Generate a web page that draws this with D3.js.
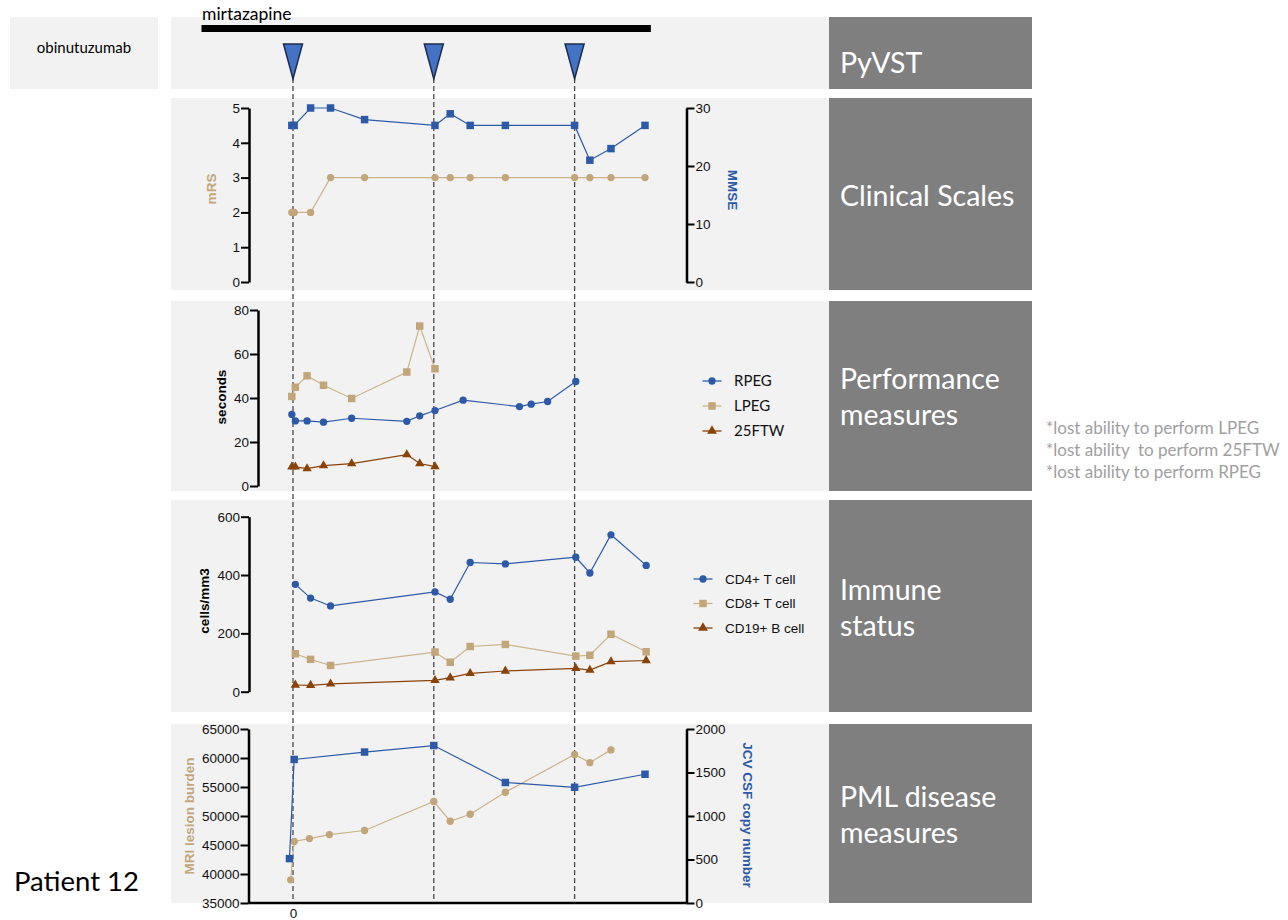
<!DOCTYPE html>
<html>
<head>
<meta charset="utf-8">
<script src="https://cdn.jsdelivr.net/npm/d3@7"></script>
<style>
	body { margin: 0; background: #fff; }
</style>
</head>
<body>
<div id="chart"></div>
<script>
// weeks are counted from the first infusion
const infusionWeeks = [0, 12, 24];
const mirtazapineSpan = [-7.8, 30.5];

// clinical scales
const clinicalWeeks = [-0.1, 0.1, 1.5, 3.2, 6.1, 12.1, 13.4, 15.1, 18.1, 24, 25.3, 27.1, 30];
const mrs = [2, 2, 2, 3, 3, 3, 3, 3, 3, 3, 3, 3, 3];
const mmse = [27, 27, 30, 30, 28, 27, 29, 27, 27, 27, 21, 23, 27];

// performance measures (seconds)
const perfWeeks = [-0.1, 0.2, 1.2, 2.6, 5.0, 9.7, 10.8, 12.1, 14.5, 19.3, 20.3, 21.7, 24.1];
const rpeg = [32.5, 29.6, 29.6, 29.0, 30.8, 29.4, 31.9, 34.3, 39.0, 36.1, 37.2, 38.4, 47.5];
const lpeg = [40.7, 44.9, 50.1, 45.8, 39.8, 51.8, 72.7, 53.3];
const ftw25 = [8.7, 8.7, 7.9, 9.3, 10.2, 14.3, 10.2, 8.8];

// immune status (cells/mm3)
const immuneWeeks = [0.2, 1.5, 3.2, 12.1, 13.4, 15.1, 18.1, 24.1, 25.3, 27.1, 30.1];
const cd4 = [368, 321, 294, 342, 317, 443, 438, 461, 407, 538, 433];
const cd8 = [130, 111, 90, 136, 101, 155, 162, 122, 125, 197, 137];
const cd19 = [23, 22, 27, 39, 48, 63, 71, 80, 74, 103, 107];

// PML disease measures
const mriWeeks = [-0.2, 0.1, 1.4, 3.1, 6.1, 12, 13.4, 15.1, 18.1, 24, 25.3, 27.1];
const mriBurden = [39000, 45600, 46100, 46800, 47500, 52500, 49100, 50300, 54100, 60600, 59200, 61400];
const jcvWeeks = [-0.3, 0.1, 6.1, 12, 18.1, 24, 30];
const jcvCopies = [510, 1650, 1735, 1810, 1385, 1330, 1480];

const notes = ['*lost ability to perform LPEG', '*lost ability  to perform 25FTW', '*lost ability to perform RPEG'];

const BLUE = '#2c5aa8', TAN = '#c2a679', TAN_LINE = '#cbb38c', BROWN = '#8a4306';
const sans = 'Lato, "Open Sans", sans-serif';
const arial = '"Liberation Sans", Arial, sans-serif';

let svg = d3.select('#chart').append('svg')
	.attr('width', 1288)
	.attr('height', 920);

let x = d3.scaleLinear().domain([0, 24]).range([293, 574.6]);

//panel backgrounds + dark title boxes
let rows = [
	{top: 17, bottom: 89, lines: ['PyVST'], base: 73},
	{top: 98, bottom: 290, lines: ['Clinical Scales'], base: 206},
	{top: 301, bottom: 491, lines: ['Performance', 'measures'], base: 389},
	{top: 500, bottom: 712, lines: ['Immune', 'status'], base: 600},
	{top: 724, bottom: 903, lines: ['PML disease', 'measures'], base: 807}
];
rows.forEach(r => {
	svg.append('rect').attr('x', 171).attr('y', r.top).attr('width', 658).attr('height', r.bottom - r.top).attr('fill', '#f2f2f2');
	svg.append('rect').attr('x', 829).attr('y', r.top).attr('width', 203).attr('height', r.bottom - r.top).attr('fill', '#7f7f7f');
	r.lines.forEach((l, i) => {
		svg.append('text').attr('x', 840).attr('y', r.base + i * 36)
			.text(l).style('font-family', sans).style('font-size', '28.5px').style('fill', '#fff');
	});
});

svg.append('rect').attr('x', 10).attr('y', 17).attr('width', 148).attr('height', 72).attr('fill', '#f2f2f2');
svg.append('text').attr('x', 84).attr('y', 53).attr('text-anchor', 'middle')
	.text('obinutuzumab').style('font-family', sans).style('font-size', '15px');

//mirtazapine bar
svg.append('text').attr('x', 202).attr('y', 20).text('mirtazapine')
	.style('font-family', sans).style('font-size', '17.5px');
svg.append('rect').attr('x', x(mirtazapineSpan[0])).attr('y', 25)
	.attr('width', x(mirtazapineSpan[1]) - x(mirtazapineSpan[0])).attr('height', 7).attr('fill', '#000');

//infusion dashed lines + triangles
svg.selectAll('line.infusion')
	.data(infusionWeeks)
	.join('line')
	.classed('infusion', true)
	.attr('x1', d => x(d)).attr('x2', d => x(d))
	.attr('y1', 78).attr('y2', 903)
	.style('stroke', '#4a4a4a').style('stroke-width', 1.3).style('stroke-dasharray', '5,3');
svg.selectAll('path.infusion')
	.data(infusionWeeks)
	.join('path')
	.classed('infusion', true)
	.attr('transform', d => 'translate(' + x(d) + ',44)')
	.attr('d', 'M-9.5,0L9.5,0L0,35Z')
	.style('fill', '#4472c4').style('stroke', '#1c2c4c').style('stroke-width', 1.5);

function styleAxis(g) {
	g.select('.domain').style('stroke-width', 2.5);
	g.selectAll('.tick line').style('stroke-width', 2);
	g.selectAll('.tick text').style('font-family', arial).style('font-size', '13.5px').style('fill', '#111');
}

function yLabel(tx, ty, rot, txt, color) {
	svg.append('text')
		.attr('transform', 'translate(' + tx + ',' + ty + ') rotate(' + rot + ')')
		.attr('text-anchor', 'middle').attr('dy', '0.35em')
		.text(txt)
		.style('font-family', arial).style('font-weight', 'bold').style('font-size', '13.5px').style('fill', color);
}

function series(weeks, values, y, shape, color, lineColor) {
	let pts = values.map((v, i) => [x(weeks[i]), y(v)]);
	svg.append('path').attr('d', d3.line()(pts))
		.style('fill', 'none').style('stroke', lineColor).style('stroke-width', 1.2);
	let size = shape === d3.symbolSquare ? 56 : shape === d3.symbolCircle ? 42 : 38;
	svg.selectAll(null)
		.data(pts)
		.join('path')
		.attr('transform', d => 'translate(' + d[0] + ',' + d[1] + ')')
		.attr('d', d3.symbol(shape, size))
		.style('fill', color);
}

function legend(items, lx, ly, gap, font, fsize) {
	items.forEach((it, i) => {
		let yy = ly + i * gap;
		svg.append('line').attr('x1', lx - 9.5).attr('x2', lx + 9.5).attr('y1', yy).attr('y2', yy)
			.style('stroke', it[2]).style('stroke-width', 1.3);
		svg.append('path').attr('transform', 'translate(' + lx + ',' + yy + ')')
			.attr('d', d3.symbol(it[1], it[1] === d3.symbolSquare ? 56 : 42)).style('fill', it[3]);
		svg.append('text').attr('x', lx + 22).attr('y', yy).attr('dy', '0.35em').text(it[0])
			.style('font-family', font).style('font-size', fsize).style('fill', '#111');
	});
}

let intFmt = d3.format('d');

//clinical scales
let yMrs = d3.scaleLinear().domain([0, 5]).range([282, 108]);
let yMmse = d3.scaleLinear().domain([0, 30]).range([282, 108]);
svg.append('g').attr('transform', 'translate(249,0)')
	.call(d3.axisLeft(yMrs).tickValues([0, 1, 2, 3, 4, 5]).tickFormat(intFmt).tickSize(8).tickSizeOuter(0).tickPadding(1)).call(styleAxis);
svg.append('g').attr('transform', 'translate(686.5,0)')
	.call(d3.axisRight(yMmse).tickValues([0, 10, 20, 30]).tickFormat(intFmt).tickSize(8).tickSizeOuter(0).tickPadding(1)).call(styleAxis);
yLabel(211, 189, -90, 'mRS', TAN);
yLabel(733, 190, 90, 'MMSE', BLUE);
series(clinicalWeeks, mrs, yMrs, d3.symbolCircle, TAN, TAN_LINE);
series(clinicalWeeks, mmse, yMmse, d3.symbolSquare, BLUE, BLUE);

//performance measures
let ySec = d3.scaleLinear().domain([0, 80]).range([486, 310]);
svg.append('g').attr('transform', 'translate(258,0)')
	.call(d3.axisLeft(ySec).tickValues([0, 20, 40, 60, 80]).tickFormat(intFmt).tickSize(8).tickSizeOuter(0).tickPadding(1)).call(styleAxis);
yLabel(221, 397, -90, 'seconds', '#000');
series(perfWeeks, lpeg, ySec, d3.symbolSquare, TAN, TAN_LINE);
series(perfWeeks, rpeg, ySec, d3.symbolCircle, BLUE, BLUE);
series(perfWeeks, ftw25, ySec, d3.symbolTriangle, BROWN, BROWN);
legend([['RPEG', d3.symbolCircle, BLUE, BLUE], ['LPEG', d3.symbolSquare, TAN_LINE, TAN], ['25FTW', d3.symbolTriangle, BROWN, BROWN]],
	712, 381, 25, sans, '15px');

//immune status
let yCells = d3.scaleLinear().domain([0, 600]).range([691.7, 516.7]);
svg.append('g').attr('transform', 'translate(249,0)')
	.call(d3.axisLeft(yCells).tickValues([0, 200, 400, 600]).tickFormat(intFmt).tickSize(8).tickSizeOuter(0).tickPadding(1)).call(styleAxis);
yLabel(204, 601, -90, 'cells/mm3', '#000');
series(immuneWeeks, cd8, yCells, d3.symbolSquare, TAN, TAN_LINE);
series(immuneWeeks, cd19, yCells, d3.symbolTriangle, BROWN, BROWN);
series(immuneWeeks, cd4, yCells, d3.symbolCircle, BLUE, BLUE);
legend([['CD4+ T cell', d3.symbolCircle, BLUE, BLUE], ['CD8+ T cell', d3.symbolSquare, TAN_LINE, TAN], ['CD19+ B cell', d3.symbolTriangle, BROWN, BROWN]],
	703, 579, 24.5, arial, '13.5px');

//PML disease measures
let yMri = d3.scaleLinear().domain([35000, 65000]).range([903, 729]);
let yJcv = d3.scaleLinear().domain([0, 2000]).range([903, 729]);
svg.append('g').attr('transform', 'translate(248.5,0)')
	.call(d3.axisLeft(yMri).tickValues(d3.range(35000, 65001, 5000)).tickSize(8).tickSizeOuter(0).tickPadding(1).tickFormat(intFmt)).call(styleAxis);
svg.append('g').attr('transform', 'translate(686.5,0)')
	.call(d3.axisRight(yJcv).tickValues([0, 500, 1000, 1500, 2000]).tickFormat(intFmt).tickSize(8).tickSizeOuter(0).tickPadding(1)).call(styleAxis);
let xAxis = svg.append('g').attr('transform', 'translate(0,903)')
	.call(d3.axisBottom(x).tickValues([0]).tickSize(0).tickPadding(5)).call(styleAxis);
xAxis.select('.domain').attr('d', 'M248.5,0H686.5');
yLabel(189, 816, -90, 'MRI lesion burden', TAN);
yLabel(748, 815, 90, 'JCV CSF copy number', BLUE);
series(mriWeeks, mriBurden, yMri, d3.symbolCircle, TAN, TAN_LINE);
series(jcvWeeks, jcvCopies, yJcv, d3.symbolSquare, BLUE, BLUE);

//side notes
svg.selectAll('text.note')
	.data(notes)
	.join('text')
	.classed('note', true)
	.attr('x', 1046).attr('y', (d, i) => 434 + i * 22)
	.text(d => d)
	.style('font-family', sans).style('font-size', '17px').style('fill', '#a0a0a0').style('white-space', 'pre');

svg.append('text').attr('x', 14).attr('y', 891).text('Patient 12')
	.style('font-family', sans).style('font-size', '27.5px');
</script>
</body>
</html>
